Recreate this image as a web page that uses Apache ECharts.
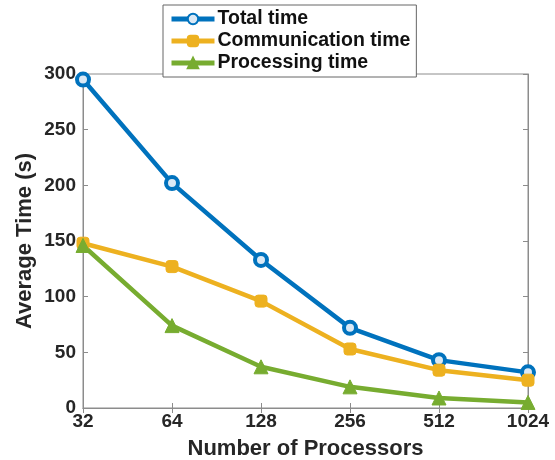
<!DOCTYPE html>
<html><head><meta charset="utf-8">
<script src="https://cdn.jsdelivr.net/npm/echarts@6/dist/echarts.min.js"></script>
<style>html,body{margin:0;padding:0;background:#fff}#c{width:555px;height:460px}</style>
</head><body><div id="c"></div>
<script>
const categories = ['32','64','128','256','512','1024'];
const totalTime = [295, 202, 133, 72, 43, 32];
const commTime = [148, 127, 96, 53, 34, 25];
const procTime = [146, 74, 37, 19, 9, 5];
const yTicks = [0, 50, 100, 150, 200, 250, 300];

const chart = echarts.init(document.getElementById('c'));
const font = 'Liberation Sans, Arial, sans-serif';
const lbl = {fontFamily: font, fontWeight: 'bold', fontSize: 19, color: '#262626'};
const axisGrey = '#8c8c8c';
chart.setOption({
  animation: false,
  grid: {left: 83, right: 27, top: 74, bottom: 52, show: true, borderColor: axisGrey, borderWidth: 1,
         containLabel: false, outerBoundsMode: 'none'},
  legend: {
    orient: 'vertical', left: 163, top: 5, width: 255,
    backgroundColor: '#fff', borderColor: '#666', borderWidth: 1,
    padding: [4, 6, 4, 6], itemGap: 2, itemWidth: 43, itemHeight: 13,
    lineStyle: {width: 5},
    textStyle: {fontFamily: font, fontWeight: 'bold', fontSize: 19.5, color: '#111', padding: [0, 0, 0, -2]},
    data: ['Total time', 'Communication time', 'Processing time']
  },
  xAxis: [{
    type: 'category', data: categories, boundaryGap: false,
    name: 'Number of Processors', nameLocation: 'middle', nameGap: 30, nameMoveOverlap: false,
    nameTextStyle: {fontFamily: font, fontWeight: 'bold', fontSize: 22, color: '#262626'},
    axisLine: {lineStyle: {color: axisGrey}},
    axisTick: {inside: true, length: 5, lineStyle: {color: axisGrey}},
    axisLabel: Object.assign({margin: 4}, lbl),
    splitLine: {show: false}
  }, {
    type: 'category', data: categories, boundaryGap: false, position: 'top',
    axisLine: {lineStyle: {color: axisGrey}},
    axisTick: {inside: true, length: 5, lineStyle: {color: axisGrey}},
    axisLabel: {show: false}
  }],
  yAxis: [{
    type: 'value', min: 0, max: 300, interval: 50,
    name: 'Average Time (s)', nameLocation: 'middle', nameGap: 47, nameMoveOverlap: false,
    nameTextStyle: {fontFamily: font, fontWeight: 'bold', fontSize: 22, color: '#262626'},
    axisLine: {show: true, lineStyle: {color: axisGrey}},
    axisTick: {show: true, inside: true, length: 5, lineStyle: {color: axisGrey}},
    axisLabel: Object.assign({margin: 7, formatter: v => yTicks.includes(v) ? String(v) : ''}, lbl),
    splitLine: {show: false}
  }, {
    type: 'value', min: 0, max: 300, interval: 50, position: 'right',
    axisLine: {show: true, lineStyle: {color: axisGrey}},
    axisTick: {show: true, inside: true, length: 5, lineStyle: {color: axisGrey}},
    axisLabel: {show: false}, splitLine: {show: false}
  }],
  series: [{
    name: 'Total time', type: 'line', data: totalTime,
    symbol: 'circle', symbolSize: 12, color: '#0072BD',
    lineStyle: {width: 4.5, color: '#0072BD'},
    itemStyle: {color: '#dbe9f5', borderColor: '#0072BD', borderWidth: 4}
  }, {
    name: 'Communication time', type: 'line', data: commTime,
    symbol: 'roundRect', symbolSize: 12, color: '#EDB120',
    lineStyle: {width: 4.5, color: '#EDB120'},
    itemStyle: {color: '#EDB120', borderColor: '#EDB120', borderWidth: 1}
  }, {
    name: 'Processing time', type: 'line', data: procTime,
    symbol: 'triangle', symbolSize: 14, color: '#77AC30',
    lineStyle: {width: 4.5, color: '#77AC30'},
    itemStyle: {color: '#77AC30', borderColor: '#77AC30', borderWidth: 1}
  }]
});
</script></body></html>
